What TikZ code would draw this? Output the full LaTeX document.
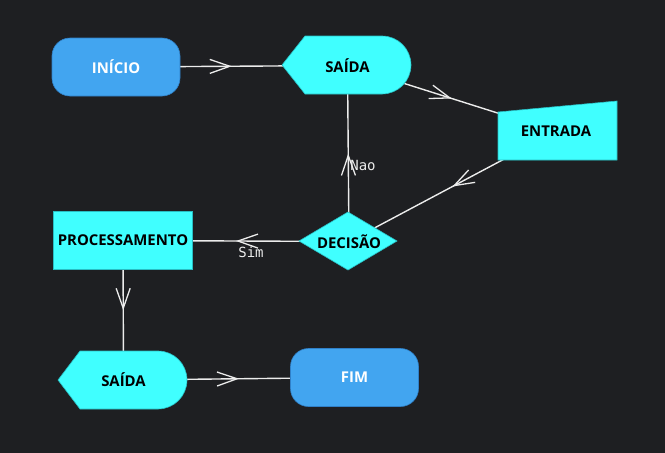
\documentclass[tikz,border=0pt]{standalone}
\usepackage{fontspec}
\setmainfont{Open Sans}
\newfontfamily\monof{DejaVu Sans Mono}
\usetikzlibrary{arrows.meta,calc,decorations.markings}
\pgfdeclarelayer{bg}\pgfdeclarelayer{lines}\pgfdeclarelayer{shapes}
\pgfsetlayers{bg,lines,shapes,main}
\definecolor{bgc}{RGB}{30,31,34}
\definecolor{cyanf}{RGB}{64,255,255}
\definecolor{cyand}{RGB}{40,190,195}
\definecolor{bluef}{RGB}{66,165,240}
\definecolor{blued}{RGB}{48,128,200}
\definecolor{linec}{RGB}{236,236,236}
\begin{document}
\begin{tikzpicture}[x=1pt,y=-1pt,
  lbl/.style={font=\fontsize{14.9}{17}\selectfont\bfseries, text=black, inner sep=0pt},
  term/.style={lbl, text=white, fill=bluef, draw=blued, line width=0.6pt, rounded corners=18pt, minimum width=128pt, minimum height=58pt},
  procbox/.style={lbl, fill=cyanf, draw=cyand, line width=0.6pt, minimum width=139pt, minimum height=58pt},
  cshape/.style={fill=cyanf, draw=cyand, line width=0.6pt},
  conn/.style={draw=linec, line width=1.4pt, postaction={decorate},
    decoration={markings, mark=at position 0.5 with {\arrow[line width=1.3pt]{Straight Barb[length=20pt,width=14pt]}}}},
  edgelbl/.style={font=\monof\fontsize{14}{16}\selectfont, text=linec, inner sep=0pt}]
\begin{pgfonlayer}{bg}
\fill[bgc] (0,0) rectangle (665,453);
\end{pgfonlayer}
\useasboundingbox (0,0) rectangle (665,453);

% nodes
\node[term] (inicio) at (116,67) {INÍCIO};
\node[lbl] (saida1) at (347.5,65.5) {SAÍDA};
\node[lbl] (entrada) at (556,131.5) {ENTRADA};
\node[lbl] (decisao) at (349,241.5) {DECISÃO};
\node[procbox] (proc) at (123,240.5) {PROCESSAMENTO};
\node[lbl] (saida2) at (123.5,380) {SAÍDA};
\node[term] (fim) at (354.5,377.5) {FIM};

% shapes drawn directly
\begin{pgfonlayer}{shapes}
\path[cshape] (282,65) -- (305,36) -- (382,36) arc[start angle=-90,end angle=90,radius=29] -- (305,94) -- cycle;
\path[cshape] (498,112) -- (617,101) -- (617,160) -- (498,160) -- cycle;
\path[cshape] (299,241) -- (348,212) -- (397,241) -- (348,270) -- cycle;
\path[cshape] (58,380) -- (80,351) -- (158,351) arc[start angle=-90,end angle=90,radius=29] -- (80,409) -- cycle;
\end{pgfonlayer}

% connectors
\begin{pgfonlayer}{lines}
\draw[conn] (inicio.center) -- (saida1.center);
\draw[conn] (saida1.center) -- (entrada.center);
\draw[conn] (entrada.center) -- (decisao.center);
\draw[conn] (decisao.center) -- (saida1.center);
\draw[conn] (decisao.center) -- (proc.center);
\draw[conn] (proc.center) -- (saida2.center);
\draw[conn] (saida2.center) -- (fim.center);
\end{pgfonlayer}

\node[edgelbl] (nao) at (363,165) {Nao};
\node[edgelbl] (sim) at (251,252.5) {Sim};
\end{tikzpicture}
\end{document}
